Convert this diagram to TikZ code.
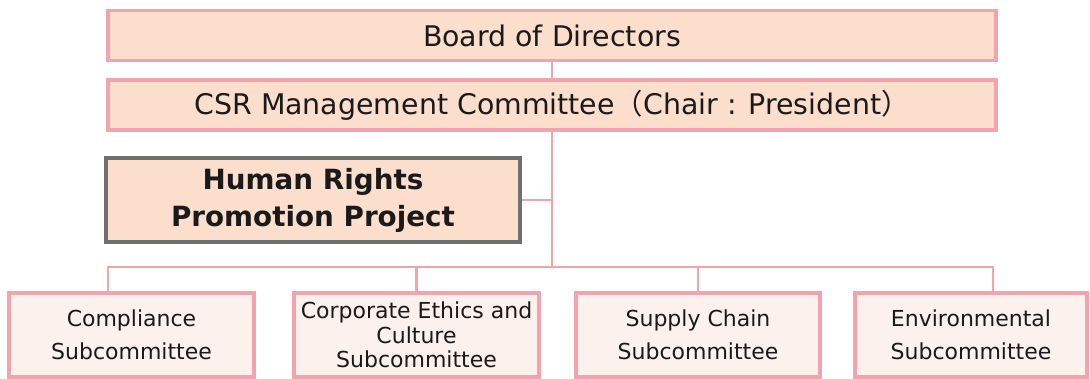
\documentclass[tikz,border=0pt]{standalone}
\usepackage{fontspec}
\setmainfont{DejaVu Sans}
\newfontfamily\cjk{Noto Sans CJK JP}
\definecolor{linkpink}{RGB}{242,164,174}
\definecolor{peach}{RGB}{251,222,204}
\definecolor{paleflesh}{RGB}{252,241,236}
\definecolor{boxgray}{RGB}{112,112,112}
\definecolor{ink}{RGB}{26,26,26}
\tikzset{
  topbox/.style={draw=linkpink, line width=3.5pt, fill=peach, text=ink,
    minimum width=888pt, minimum height=50pt, inner sep=0pt,
    font=\fontsize{28.4}{32}\selectfont},
  projbox/.style={draw=boxgray, line width=3.5pt, fill=peach, text=ink,
    minimum width=414pt, minimum height=84pt, inner sep=0pt, align=center,
    font=\fontsize{27.8}{37}\selectfont\bfseries},
  subbox/.style={draw=linkpink, line width=3.5pt, fill=paleflesh, text=ink,
    minimum height=84pt, inner sep=0pt, align=center,
    font=\fontsize{22}{32.5}\selectfont},
  link/.style={draw=linkpink, line width=2.2pt}
}
\begin{document}
\begin{tikzpicture}[x=1pt,y=-1pt]
                \useasboundingbox (0,0) rectangle (1090,378);

                % bus line and its two ends
                \coordinate (busL) at (108,267);
                \coordinate (busR) at (993,267);

                \node[topbox] (board) at (552,35.5) {Board of Directors};
                \node[topbox] (csr) at (552,105) {CSR Management Committee{\cjk（}Chair : President{\cjk）}};
                \node[projbox] (hrp) at (313,200) {Human Rights\\Promotion Project};

                \node[subbox, minimum width=245pt] (comp) at (131.5,335) {Compliance\\Subcommittee};
                \node[subbox, minimum width=245pt, font=\fontsize{22}{24.5}\selectfont] (ethics) at (416.5,335) {Corporate Ethics and\\Culture\\Subcommittee};
                \node[subbox, minimum width=244pt] (supply) at (698,335) {Supply Chain\\Subcommittee};
                \node[subbox, minimum width=232pt] (env) at (971,335) {Environmental\\Subcommittee};

                \draw[link] (board.south) -- (csr.north);
                \draw[link] (csr.south) -- (csr.south |- busL);
                \draw[link] (hrp.east) -- (hrp.east -| csr.south);

                \draw[link] (comp.north -| busL) -- (busL) -- (busR) -- (env.north -| busR);
                \draw[link] (ethics.north) -- (ethics.north |- busL);
                \draw[link] (supply.north) -- (supply.north |- busL);
            \end{tikzpicture}
\end{document}
